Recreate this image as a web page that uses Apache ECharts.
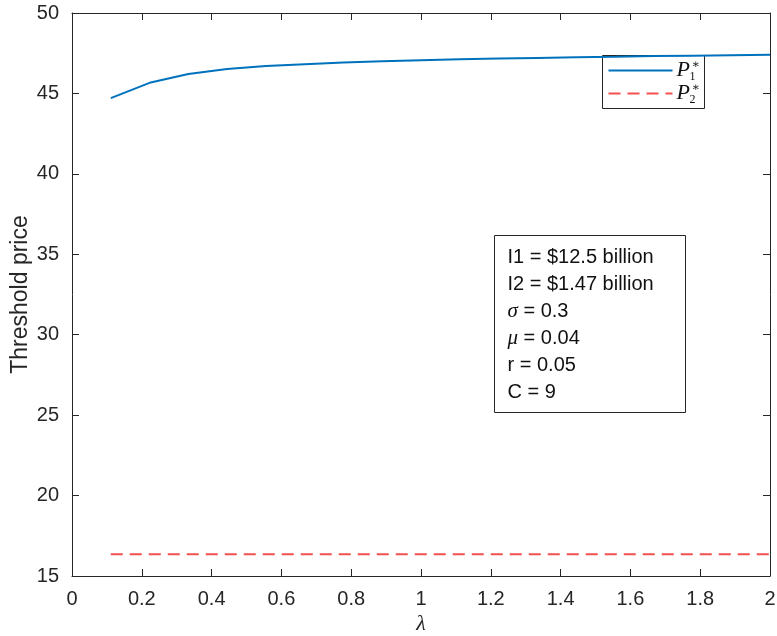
<!DOCTYPE html>
<html>
<head>
<meta charset="utf-8">
<script src="https://cdn.jsdelivr.net/npm/echarts@6/dist/echarts.min.js"></script>
<style>
  html, body { margin: 0; padding: 0; background: #fff; }
  #chart { width: 777px; height: 636px; }
</style>
</head>
<body>
<div id="chart"></div>
<script>
// lambda grid (k/9, k = 1..18)
const lambdaValues = [0.1111, 0.2222, 0.3333, 0.4444, 0.5556, 0.6667, 0.7778, 0.8889, 1.0000,
                      1.1111, 1.2222, 1.3333, 1.4444, 1.5556, 1.6667, 1.7778, 1.8889, 2.0000];
// threshold price P1* for each lambda
const p1Values = [44.71, 45.66, 46.21, 46.52, 46.70, 46.82, 46.92, 47.00, 47.07,
                  47.12, 47.17, 47.21, 47.25, 47.28, 47.32, 47.35, 47.38, 47.41];
// threshold price P2* (flat)
const p2Values = [16.35, 16.35, 16.35, 16.35, 16.35, 16.35, 16.35, 16.35, 16.35,
                  16.35, 16.35, 16.35, 16.35, 16.35, 16.35, 16.35, 16.35, 16.35];
// parameter annotations
const paramLines = ['I1 = $12.5 billion', 'I2 = $1.47 billion', '{g|σ} = 0.3', '{g|μ} = 0.04', 'r = 0.05', 'C = 9'];

const axisColor = '#262626';
const sansFont = '"Liberation Sans", Arial, Helvetica, sans-serif';
const serifFont = '"Liberation Serif", "DejaVu Serif", serif';

const chart = echarts.init(document.getElementById('chart'));

const pairs = (ys) => lambdaValues.map((x, i) => [x, ys[i]]);

function frameAxis(kind, pos, extra) {
  const ax = {
    type: 'value',
    position: pos,
    min: kind === 'x' ? 0 : 15,
    max: kind === 'x' ? 2 : 50,
    interval: kind === 'x' ? 0.2 : 5,
    axisLine: { show: true, onZero: false, lineStyle: { color: axisColor, width: 1 } },
    axisTick: { show: true, inside: true, length: 7, lineStyle: { color: axisColor, width: 1 } },
    splitLine: { show: false },
    axisLabel: { show: false }
  };
  return Object.assign(ax, extra || {});
}

chart.setOption({
  animation: false,
  backgroundColor: '#ffffff',
  grid: { left: 72, right: 7, top: 13, bottom: 60, containLabel: false, outerBoundsMode: 'none' },
  xAxis: [
    frameAxis('x', 'bottom', {
      name: 'λ',
      nameLocation: 'middle',
      nameGap: 37,
      nameMoveOverlap: false,
      nameTextStyle: { fontFamily: serifFont, fontStyle: 'italic', fontSize: 22, color: axisColor },
      axisLabel: {
        show: true, color: axisColor, fontFamily: sansFont, fontSize: 20, margin: 13,
        formatter: (v) => String(Number(v.toFixed(1)))
      }
    }),
    frameAxis('x', 'top')
  ],
  yAxis: [
    frameAxis('y', 'left', {
      name: 'Threshold price',
      nameLocation: 'middle',
      nameGap: 40,
      nameMoveOverlap: false,
      nameTextStyle: { fontFamily: sansFont, fontSize: 23, color: axisColor },
      axisLabel: { show: true, color: axisColor, fontFamily: sansFont, fontSize: 20, margin: 13 }
    }),
    frameAxis('y', 'right')
  ],
  series: [
    {
      name: 'P1*', type: 'line', xAxisIndex: 0, yAxisIndex: 0,
      data: pairs(p1Values), showSymbol: false, symbol: 'none',
      lineStyle: { color: '#0072BD', width: 2 }
    },
    {
      name: 'P2*', type: 'line', xAxisIndex: 0, yAxisIndex: 0,
      data: pairs(p2Values), showSymbol: false, symbol: 'none',
      lineStyle: { color: '#F45050', width: 2, type: [12, 7] }
    }
  ],
  graphic: [
    // legend box
    {
      type: 'group', left: 602, top: 55,
      children: [
        { type: 'rect', shape: { x: 0, y: 0, width: 102, height: 53 },
          style: { fill: '#fff', stroke: axisColor, lineWidth: 1 } },
        { type: 'line', shape: { x1: 6, y1: 15, x2: 70, y2: 15 },
          style: { stroke: '#0072BD', lineWidth: 2 } },
        { type: 'line', shape: { x1: 6, y1: 38, x2: 70, y2: 38 },
          style: { stroke: '#F45050', lineWidth: 2, lineDash: [12, 7] } },
        { type: 'text', x: 74, y: 4,
          style: { text: 'P', fontFamily: serifFont, fontStyle: 'italic', fontSize: 22, fill: '#111' } },
        { type: 'text', x: 89, y: 3,
          style: { text: '∗', fontFamily: serifFont, fontSize: 12, fill: '#111' } },
        { type: 'text', x: 87, y: 15,
          style: { text: '1', fontFamily: serifFont, fontSize: 12, fill: '#111' } },
        { type: 'text', x: 74, y: 27,
          style: { text: 'P', fontFamily: serifFont, fontStyle: 'italic', fontSize: 22, fill: '#111' } },
        { type: 'text', x: 89, y: 26,
          style: { text: '∗', fontFamily: serifFont, fontSize: 12, fill: '#111' } },
        { type: 'text', x: 87, y: 38,
          style: { text: '2', fontFamily: serifFont, fontSize: 12, fill: '#111' } }
      ]
    },
    // parameter box
    {
      type: 'group', left: 494, top: 235,
      children: [
        { type: 'rect', shape: { x: 0, y: 0, width: 191, height: 177 },
          style: { fill: '#fff', stroke: axisColor, lineWidth: 1 } },
        { type: 'text', x: 13, y: 8,
          style: {
            text: paramLines.join('\n'),
            fontFamily: sansFont, fontSize: 20, lineHeight: 27, fill: '#111',
            rich: {
              g: { fontFamily: serifFont, fontStyle: 'italic', fontSize: 21, lineHeight: 27, fill: '#111' }
            }
          } }
      ]
    }
  ]
});
</script>
</body>
</html>
